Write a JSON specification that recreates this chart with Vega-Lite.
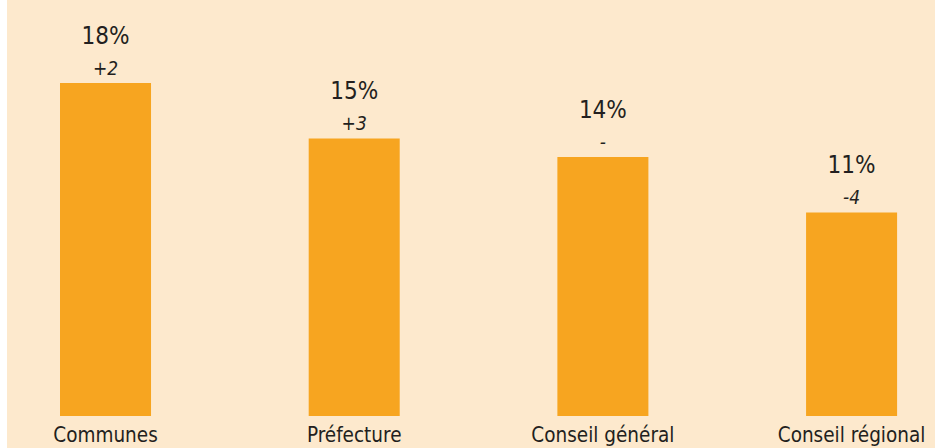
{
  "$schema": "https://vega.github.io/schema/vega-lite/v6.json",
  "width": 928,
  "height": 448,
  "autosize": {"type": "none"},
  "padding": {"left": 7, "top": 0, "right": 0, "bottom": 0},
  "background": "#ffffff",
  "config": {
    "view": {"stroke": null, "fill": "#FDE9CD"},
    "axis": {"grid": false}
  },
  "data": {
    "values": [
      {"cat": "Communes", "value": 18, "label": "18%", "delta": "+2"},
      {"cat": "Préfecture", "value": 15, "label": "15%", "delta": "+3"},
      {"cat": "Conseil général", "value": 14, "label": "14%", "delta": "-"},
      {"cat": "Conseil régional", "value": 11, "label": "11%", "delta": "-4"}
    ]
  },
  "encoding": {
    "x": {
      "field": "cat",
      "type": "nominal",
      "sort": null,
      "scale": {"paddingInner": 0.634, "paddingOuter": 0.1828, "align": 0.583},
      "axis": {
        "title": null,
        "orient": "bottom",
        "offset": -32,
        "domain": false,
        "ticks": false,
        "labelAngle": 0,
        "labelPadding": 9,
        "labelFont": "DejaVu Sans Condensed, Liberation Sans Narrow, sans-serif",
        "labelFontSize": 20.5,
        "labelColor": "#231F20",
        "labelBaseline": "top"
      }
    }
  },
  "layer": [
    {
      "mark": {"type": "bar", "color": "#F7A520"},
      "encoding": {
        "y": {
          "field": "value",
          "type": "quantitative",
          "scale": {"domain": [-1.73, 22.486], "nice": false, "zero": false},
          "axis": null
        },
        "y2": {"datum": 0}
      }
    },
    {
      "mark": {
        "type": "text",
        "baseline": "alphabetic",
        "dy": -39,
        "font": "DejaVu Sans Condensed, Liberation Sans Narrow, sans-serif",
        "fontSize": 24,
        "color": "#231F20"
      },
      "encoding": {
        "y": {"field": "value", "type": "quantitative"},
        "text": {"field": "label"}
      }
    },
    {
      "mark": {
        "type": "text",
        "baseline": "alphabetic",
        "dy": -8,
        "font": "DejaVu Sans Condensed, Liberation Sans Narrow, sans-serif",
        "fontSize": 19,
        "fontStyle": "italic",
        "color": "#231F20"
      },
      "encoding": {
        "y": {"field": "value", "type": "quantitative"},
        "text": {"field": "delta"}
      }
    }
  ]
}
